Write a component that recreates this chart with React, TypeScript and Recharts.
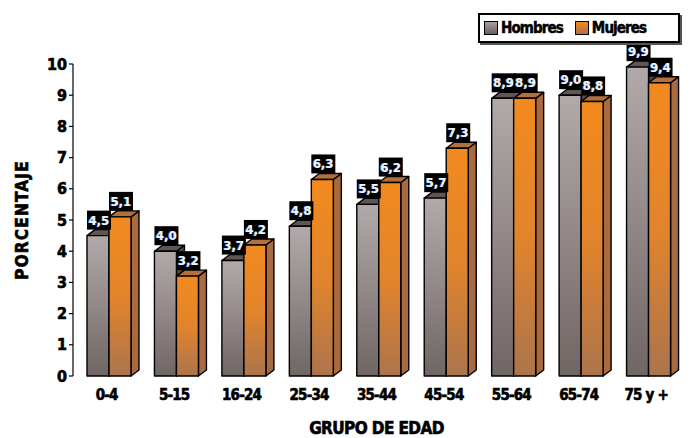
import React from 'react';
import { BarChart, Bar, XAxis, YAxis, LabelList, Label } from 'recharts';

const grupos = ['0-4', '5-15', '16-24', '25-34', '35-44', '45-54', '55-64', '65-74', '75 y +'];
const hombres = [4.5, 4.0, 3.7, 4.8, 5.5, 5.7, 8.9, 9.0, 9.9];
const mujeres = [5.1, 3.2, 4.2, 6.3, 6.2, 7.3, 8.9, 8.8, 9.4];
const yTicks = [0, 1, 2, 3, 4, 5, 6, 7, 8, 9, 10];

const data = grupos.map((g, i) => ({ grupo: g, hombres: hombres[i], mujeres: mujeres[i] }));

const FONT = '"DejaVu Sans Condensed", "Liberation Sans", Arial, sans-serif';
const DX = 8;
const DY = 6;
const SHIFT = 2;

// heavy black text used for ticks and titles
const heavy = (size: number, spacing = -0.6) => ({
  fontFamily: FONT,
  fontWeight: 'bold' as const,
  fontSize: size,
  fill: '#000',
  stroke: '#000',
  strokeWidth: 0.6,
  letterSpacing: spacing,
});

type FaceColors = { front: string; top: string; side: string };

const Bar3D = (props: any, c: FaceColors) => {
  const { x, y, width, height } = props;
  if (width == null || height == null) return null;
  const x0 = x + SHIFT;
  const x1 = x0 + width;
  const y1 = y + height;
  return (
    <g stroke="#000" strokeWidth={1.4} strokeLinejoin="round">
      <polygon
        points={`${x1},${y} ${x1 + DX},${y - DY} ${x1 + DX},${y1 - DY} ${x1},${y1}`}
        fill={c.side}
      />
      <polygon
        points={`${x0},${y} ${x0 + DX},${y - DY} ${x1 + DX},${y - DY} ${x1},${y}`}
        fill={c.top}
      />
      <rect x={x0} y={y} width={width} height={height} fill={c.front} />
    </g>
  );
};

const ValueTag = (props: any) => {
  const { x, y, width, value } = props;
  const cx = x + SHIFT + width / 2 + 1;
  const top = y - DY - 19;
  const txt = Number(value).toFixed(1).replace('.', ',');
  return (
    <g>
      <rect x={cx - 12} y={top} width={24} height={19} fill="#000" />
      <text
        x={cx - 0.8}
        y={top + 14}
        textAnchor="middle"
        fontFamily={FONT}
        fontWeight="bold"
        fontSize={13}
        fill="#6f9fd8"
      >
        {txt}
      </text>
      <text
        x={cx}
        y={top + 14}
        textAnchor="middle"
        fontFamily={FONT}
        fontWeight="bold"
        fontSize={13}
        fill="#eef3ff"
      >
        {txt}
      </text>
    </g>
  );
};

const swatch = (bg: string) => (
  <span
    style={{
      display: 'inline-block',
      width: 12,
      height: 12,
      border: '1.5px solid #000',
      background: bg,
      marginRight: 3,
    }}
  />
);

const LegendBox = () => (
  <div
    style={{
      position: 'absolute',
      left: 478,
      top: 13,
      border: '2px solid #000',
      boxShadow: '2px 2px 0 #555',
      background: '#fff',
      display: 'flex',
      alignItems: 'center',
      height: 30,
      width: 202,
      padding: '0 4px',
      boxSizing: 'border-box',
      fontFamily: FONT,
      fontWeight: 'bold',
      fontSize: 15,
      letterSpacing: -0.9,
      WebkitTextStroke: '0.5px #000',
      color: '#000',
    }}
  >
    {swatch('linear-gradient(#a8a0a0, #6a605c)')}
    <span style={{ marginRight: 12 }}>Hombres</span>
    {swatch('linear-gradient(#f28a1e, #b0704a)')}
    <span>Mujeres</span>
  </div>
);

export default function App() {
  return (
    <div style={{ position: 'absolute', left: 0, top: 0, width: 694, height: 438, background: '#fff' }}>
      <BarChart
        width={694}
        height={438}
        data={data}
        margin={{ top: 64, right: 14, bottom: 0, left: 0 }}
        barGap={0}
        barSize={22}
      >
        <defs>
          <linearGradient id="gHombres" x1="0" y1="0" x2="0" y2="1">
            <stop offset="0%" stopColor="#b2aaaa" />
            <stop offset="100%" stopColor="#706664" />
          </linearGradient>
          <linearGradient id="gMujeres" x1="0" y1="0" x2="0" y2="1">
            <stop offset="0%" stopColor="#f28a1e" />
            <stop offset="50%" stopColor="#e2842c" />
            <stop offset="100%" stopColor="#ac744c" />
          </linearGradient>
        </defs>
        <XAxis
          dataKey="grupo"
          height={62}
          axisLine={false}
          tickLine={false}
          interval={0}
          tick={heavy(15, -0.8)}
          tickMargin={7}
        >
          <Label value="GRUPO DE EDAD" position="insideBottom" offset={4} style={heavy(17, -0.6)} />
        </XAxis>
        <YAxis
          width={73}
          domain={[0, 10]}
          ticks={yTicks}
          interval={0}
          axisLine={{ stroke: '#000', strokeWidth: 1.2 }}
          tickLine={{ stroke: '#000', strokeWidth: 1.2 }}
          tickSize={4}
          tick={heavy(16, 0)}
        >
          <Label
            value="PORCENTAJE"
            angle={-90}
            position="insideLeft"
            offset={22}
            style={{ ...heavy(17, 1.2), textAnchor: 'middle' }}
          />
        </YAxis>
        <Bar
          dataKey="hombres"
          name="Hombres"
          isAnimationActive={false}
          shape={(p: any) => Bar3D(p, { front: 'url(#gHombres)', top: '#5e5654', side: '#4e4644' })}
        >
          <LabelList dataKey="hombres" content={ValueTag} />
        </Bar>
        <Bar
          dataKey="mujeres"
          name="Mujeres"
          isAnimationActive={false}
          shape={(p: any) => Bar3D(p, { front: 'url(#gMujeres)', top: '#b4703c', side: '#a86a3e' })}
        >
          <LabelList dataKey="mujeres" content={ValueTag} />
        </Bar>
      </BarChart>
      <LegendBox />
    </div>
  );
}
